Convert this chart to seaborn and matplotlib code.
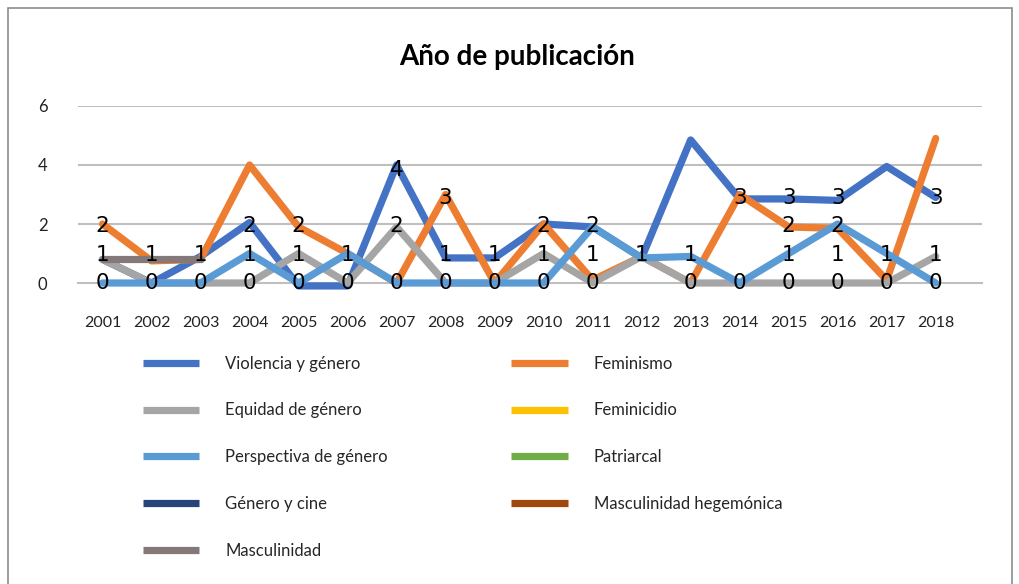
import numpy as np
import pandas as pd
import matplotlib
matplotlib.use("Agg")
import matplotlib.pyplot as plt
import seaborn as sns
from matplotlib.lines import Line2D
from matplotlib.patches import Rectangle

nan = np.nan

# Categories
years = [str(y) for y in range(2001, 2019)]

# Series (values as drawn in the original chart)
violencia = [0.8, 0, 0.9, 2.05, -0.1, -0.1, 4.0, 0.85, 0.85, 2.0, 1.9, 0.85, 4.85, 2.85, 2.85, 2.8, 3.95, 2.9]
feminismo = [2.0, 0.75, 0.8, 4.0, 1.9, 1.0, 0, 3.0, 0, 2.0, 0.1, 0.9, 0, 3.0, 1.9, 1.85, 0.1, 4.9]
equidad = [0.8, 0, 0, 0, 1.0, 0, 1.9, 0, 0, 1.0, 0, 0.9, 0, 0, 0, 0, 0, 0.9]
feminicidio = [nan] * 18
perspectiva = [0, 0, 0, 1.0, 0, 1.0, 0, 0, 0, 0, 1.9, 0.85, 0.9, 0, 1.0, 2.0, 1.0, 0]
patriarcal = [nan] * 18
genero_cine = [nan] * 18
masc_hegemonica = [nan] * 18
masculinidad = [0.8, 0.8, 0.8] + [nan] * 15

series_names = ["Violencia y género", "Feminismo", "Equidad de género", "Feminicidio",
                "Perspectiva de género", "Patriarcal", "Género y cine",
                "Masculinidad hegemónica", "Masculinidad"]
series_values = [violencia, feminismo, equidad, feminicidio, perspectiva, patriarcal,
                 genero_cine, masc_hegemonica, masculinidad]
colors = ["#4472C4", "#ED7D31", "#A5A5A5", "#FFC000", "#5B9BD5", "#70AD47",
          "#264478", "#9E480E", "#857878"]

# Data labels shown at each year
point_labels = [
    [2, 1, 0], [1, 0], [1, 0], [2, 1, 0], [2, 1, 0], [1, 0],
    [4, 2, 0], [3, 1, 0], [1, 0], [2, 1, 0], [2, 1, 0], [1],
    [1, 0], [3, 0], [3, 2, 1, 0], [3, 2, 1, 0], [1, 0], [3, 1, 0],
]

rows = []
for name, vals in zip(series_names, series_values):
    for y, v in zip(years, vals):
        rows.append({"Año": y, "Serie": name, "Valor": v})
df = pd.DataFrame(rows)

sns.set_theme(style="white")
plt.rcParams["font.family"] = ["Lato", "DejaVu Sans"]

fig = plt.figure(figsize=(10.2, 5.84), dpi=100)
ax = fig.add_axes([0.0765, 0.5154, 0.8865, 0.3031])

palette = dict(zip(series_names, colors))
sns.lineplot(data=df.dropna(), x="Año", y="Valor", hue="Serie", hue_order=series_names,
             palette=palette, linewidth=5.2, errorbar=None, legend=False, ax=ax,
             clip_on=False)

ax.set_xlim(-0.5, 17.95)
ax.set_ylim(0, 6)
ax.set_yticks([0, 2, 4, 6])
ax.set_xlabel("")
ax.set_ylabel("")
for sp in ["top", "right", "left"]:
    ax.spines[sp].set_visible(False)
ax.spines["bottom"].set_color("#BFBFBF")
ax.spines["bottom"].set_linewidth(1.5)
ax.spines["bottom"].set_zorder(0.5)
for g in [2, 4, 6]:
    ax.axhline(g, color="#BFBFBF", lw=1.5, zorder=0.5)

ax.set_xticks(np.arange(-0.5, 18, 1), minor=True)
ax.tick_params(axis="x", which="minor", length=11, width=1.5, color="#BFBFBF", direction="out")
ax.tick_params(axis="x", which="major", length=0, pad=24, labelsize=11.5, labelcolor="#222222")
ax.tick_params(axis="y", length=0, pad=22, labelsize=12, labelcolor="#222222")

for i, labs in enumerate(point_labels):
    for v in labs:
        ax.text(i, v * 0.96, str(v), ha="center", va="center", fontsize=15.5,
                family=["Liberation Sans Narrow", "DejaVu Sans"], color="black", zorder=10)

fig.text(0.507, 1 - 57 / 584, "Año de publicación", ha="center", va="center",
         fontsize=20, fontweight="bold", color="black")

# Legend in row-major order (as in the original)
order = [0, 2, 4, 6, 8, 1, 3, 5, 7]
handles = [Line2D([], [], color=colors[k], lw=5.2, solid_capstyle="butt") for k in order]
labels = [series_names[k] for k in order]
fig.legend(handles, labels, loc="upper left", bbox_to_anchor=(0.140, 0.391), ncol=2,
           frameon=False, fontsize=12, handlelength=3.4, handletextpad=1.55,
           columnspacing=7.4, labelspacing=1.85, borderpad=0, borderaxespad=0)

fig.add_artist(Rectangle((0.0078, -0.1), 0.984, 1.086, transform=fig.transFigure,
                         fill=False, edgecolor="#8C8C8C", lw=1.2))

fig.savefig("out.png", dpi=100)
